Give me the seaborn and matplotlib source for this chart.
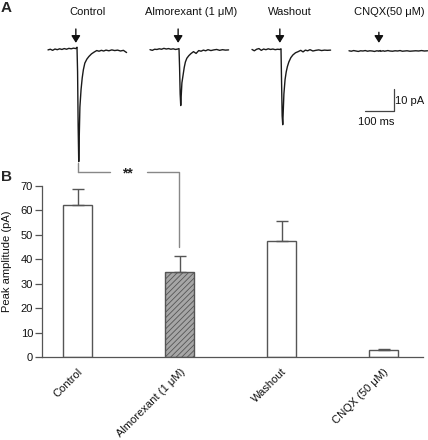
import matplotlib
matplotlib.use("Agg")
import matplotlib.pyplot as plt
import seaborn as sns
import pandas as pd

# Panel B: mean peak amplitude (pA) with SEM
conditions = ["Control", "Almorexant (1 μM)", "Washout", "CNQX (50 μM)"]
peak_means = [62.2, 34.8, 47.5, 2.9]
peak_sems = [6.5, 6.7, 8.3, 0.5]

# Panel A: representative traces (pA), sampled by eye off the figure
trace_titles = ["Control", "Almorexant (1 μM)", "Washout", "CNQX(50 μM)"]
time_ms = [0, 8, 16, 24, 32, 40, 48, 56, 64, 72, 80, 88, 96, 100, 102, 104,
           106, 108, 110, 114, 118, 122, 127, 134, 141, 150, 159, 168, 176,
           184, 192, 200, 210, 220, 230, 240, 250, 260, 271]
control_pa = [0, 0.3, -0.2, 0.4, 0.1, 0.5, 0.2, 0.6, 0.3, 0.7, 0.5, 0.8, 0.6,
              1.2, -10, -35, -50.8, -38, -26, -18, -12.7, -9, -6, -4.2, -3,
              -1.8, -1, -0.3, -0.6, -0.2, -0.5, -0.1, -0.4, 0, -0.3, -0.1,
              -0.5, -0.2, -1.2]
almorexant_pa = [0.1, -0.2, 0.3, 0.2, 0.5, 0.3, 0.7, 0.4, 0.6, 0.3, 0.5, 0.2,
                 0.4, 0.6, -8, -20, -25.3, -20, -15, -11.5, -8, -5.5, -3.8,
                 -2.6, -1.7, -0.8, -1.6, -0.3, -0.6, -0.1, -0.4, 0.1, -0.3, 0,
                 0.2, -0.2, 0.1, -0.1, 0]
washout_pa = [0.2, -0.4, 0.3, 0.6, -0.2, 0.4, 0.1, 0.5, 0.2, 0.4, 0.1, 0.3,
              0.2, 0.5, -15, -30, -34, -27, -20, -13.5, -10, -7.6, -5.5, -3.5,
              -2.3, -1.3, -0.8, -0.2, -0.9, -0.1, -0.4, 0.1, -0.5, -0.2, 0,
              -0.3, -0.1, -0.2, -0.1]
cnqx_pa = [-0.4, -0.6, -0.3, -0.5, -0.7, -0.4, -0.5, -0.3, -0.6, -0.4, -0.5,
           -0.7, -0.4, -0.5, -0.6, -0.4, -0.5, -0.3, -0.6, -0.5, -0.4, -0.6,
           -0.5, -0.3, -0.5, -0.6, -0.4, -0.5, -0.3, -0.6, -0.5, -0.4, -0.6,
           -0.5, -0.4, -0.5, -0.3, -0.5, -0.4]
traces = [control_pa, almorexant_pa, washout_pa, cnqx_pa]
stim_ms = [96, 97, 96, 103]

W, H = 428, 440


def px_box(left, top, width, height):
    return [left / W, 1 - (top + height) / H, width / W, height / H]


sns.set_theme(style="ticks")
plt.rcParams["font.family"] = ["Liberation Sans", "DejaVu Sans"]
plt.rcParams["hatch.linewidth"] = 0.6

fig = plt.figure(figsize=(W / 100, H / 100), dpi=100)

# ---- A: traces ----
px_per_ms = 0.29
px_per_pa = 2.2
starts = [48, 150, 252, 349]
title_x = [88, 191, 290, 389]
arrow_top = [9.5, 9.5, 9.5, 8.0]
for i, vals in enumerate(traces):
    ax = fig.add_axes(px_box(starts[i] - 5 * px_per_ms, 40,
                             280 * px_per_ms, 57.5 * px_per_pa))
    df_t = pd.DataFrame({"t": time_ms, "I": vals})
    sns.lineplot(data=df_t, x="t", y="I", ax=ax, color="#1a1a1a", lw=1.0)
    ax.set_xlim(-5, 275)
    ax.set_ylim(-53, 4.5)
    ax.axis("off")
    ax.annotate("", xy=(stim_ms[i], 3.2), xytext=(stim_ms[i], arrow_top[i]),
                arrowprops=dict(arrowstyle="-|>,head_width=0.22,head_length=0.35",
                                color="#111111", lw=1, shrinkA=0, shrinkB=0),
                annotation_clip=False)
    fig.text(title_x[i] / W, 1 - 15 / H, trace_titles[i], ha="center",
             va="baseline", fontsize=8, color="#111111")
    if i == 3:
        # scale bar 100 ms x 10 pA
        ax.plot([55, 155, 155], [-28, -28, -18], color="#444444", lw=0.9,
                clip_on=False)
        ax.text(158, -23.3, "10 pA", ha="left", va="center", fontsize=8,
                color="#111111")
        ax.text(95, -33, "100 ms", ha="center", va="center", fontsize=8,
                color="#111111")

fig.text(1 / W, 1 - 12 / H, "A", fontsize=11, fontweight="bold", va="baseline")
fig.text(1 / W, 1 - 181 / H, "B", fontsize=11, fontweight="bold", va="baseline")

# ---- B: bars ----
axb = fig.add_axes(px_box(42, 186, 381.3, 171))
df = pd.DataFrame({"condition": conditions, "amplitude": peak_means})
sns.barplot(data=df, x="condition", y="amplitude", hue="condition",
            palette=["white", "#a6a6a6", "white", "white"], width=0.288,
            edgecolor="#555555", linewidth=1, errorbar=None, legend=False,
            ax=axb)
axb.patches[1].set_hatch("//////")
axb.errorbar(x=list(range(len(conditions))), y=peak_means,
             yerr=[[0] * len(peak_sems), peak_sems], fmt="none",
             ecolor="#555555", elinewidth=1, capsize=4, capthick=1)
axb.set_xlim(-0.351, 3.39)
axb.set_ylim(0, 70)
axb.set_yticks(range(0, 71, 10))
axb.set_xlabel("")
axb.set_ylabel("Peak amplitude (pA)", fontsize=8, color="#111111")
axb.yaxis.set_label_coords(-0.078, 0.56)
axb.set_xticks(range(len(conditions)))
axb.set_xticklabels(conditions, rotation=45, ha="right", rotation_mode="anchor",
                    fontsize=8, color="#111111")
axb.tick_params(axis="x", length=0, pad=7)
axb.tick_params(axis="y", length=5, width=0.9, color="#555555", labelsize=8,
                labelcolor="#111111", pad=1.5)
sns.despine(ax=axb)
for s in ["left", "bottom"]:
    axb.spines[s].set_color("#555555")
    axb.spines[s].set_linewidth(0.9)

# significance bracket Control vs Almorexant
sig_y = 75.8
br = dict(color="#888888", lw=1, clip_on=False)
axb.plot([0, 0], [sig_y, 79.5], **br)
axb.plot([0, 0.316], [sig_y, sig_y], **br)
axb.plot([0.676, 0.996, 0.996], [sig_y, sig_y, 45.0], **br)
axb.text(0.49, sig_y - 0.8, "**", ha="center", va="center", fontsize=10,
         fontweight="bold", color="#222222")

fig.savefig("out.png", dpi=100)
